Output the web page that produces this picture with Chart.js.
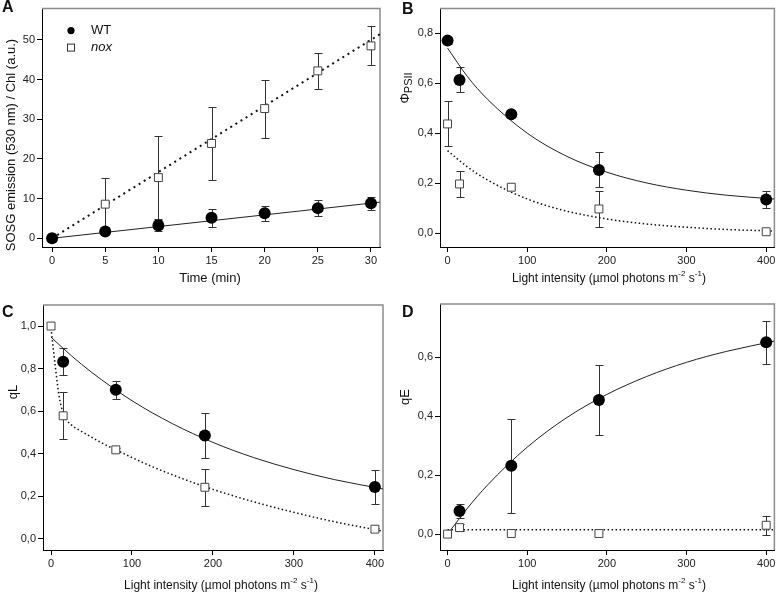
<!DOCTYPE html>
<html>
<head>
<meta charset="utf-8">
<script src="https://cdn.jsdelivr.net/npm/chart.js@4.4.1/dist/chart.umd.min.js"></script>
<style>
  body { margin: 0; background: #fff; }
  #fig { position: relative; width: 781px; height: 593px; font-family: 'Liberation Sans', Arial, sans-serif; color: #111; }
  canvas { position: absolute; }
  .lbl { position: absolute; font-weight: bold; font-size: 16px; line-height: 1; }
  .ttl { position: absolute; font-size: 13px; white-space: nowrap; line-height: 1; transform: translate(-50%, -50%); }
  .lt { font-size: 12px; }
  .rot { transform: translate(-50%, -50%) rotate(-90deg); }
  sup { font-size: 8px; vertical-align: 6px; line-height: 0; }
  sub { font-size: 11px; vertical-align: -3px; line-height: 0; }
</style>
</head>
<body>
<div id="fig">
  <canvas id="cA" width="390" height="295" style="left:0;top:0"></canvas>
  <canvas id="cB" width="391" height="295" style="left:390px;top:0"></canvas>
  <canvas id="cC" width="390" height="298" style="left:0;top:295px"></canvas>
  <canvas id="cD" width="391" height="298" style="left:390px;top:295px"></canvas>

  <div class="lbl" style="left:2px;top:-1px">A</div>
  <div class="lbl" style="left:402px;top:1px">B</div>
  <div class="lbl" style="left:2px;top:304px">C</div>
  <div class="lbl" style="left:402px;top:304px">D</div>

  <div class="ttl rot" style="left:10px;top:145px">SOSG emission (530 nm) / Chl (a.u.)</div>
  <div class="ttl" style="left:210px;top:277px">Time (min)</div>
  <div class="ttl rot" style="left:404px;top:88px">&Phi;<sub>PSII</sub></div>
  <div class="ttl lt" style="left:609px;top:278px">Light intensity (&micro;mol photons m<sup>-2</sup> s<sup>-1</sup>)</div>
  <div class="ttl rot" style="left:12px;top:392px">qL</div>
  <div class="ttl lt" style="left:221px;top:585px">Light intensity (&micro;mol photons m<sup>-2</sup> s<sup>-1</sup>)</div>
  <div class="ttl rot" style="left:404px;top:397px">qE</div>
  <div class="ttl lt" style="left:609px;top:585px">Light intensity (&micro;mol photons m<sup>-2</sup> s<sup>-1</sup>)</div>
</div>
<script>
// ---- A: SOSG fluorescence over time
const timeMin = [0, 5, 10, 15, 20, 25, 30];
const sosgWT = [0, 1.7, 3.2, 5.2, 6.3, 7.6, 8.8];
const sosgWTErr = [0, 0.4, 1.4, 2.3, 1.9, 2.0, 1.6];
const sosgNox = [0, 8.6, 15.3, 23.9, 32.7, 42.2, 48.5];
const sosgNoxErr = [0, 6.6, 10.4, 9.3, 7.3, 4.5, 4.9];
const fitTime = [0, 31];
const fitSosgWT = [0, 9.15];
const fitSosgNox = [0, 51.7];
const timeTicks = [0, 5, 10, 15, 20, 25, 30];
const sosgTicks = [0, 10, 20, 30, 40, 50];

// ---- B, C, D: light response
const light = [0, 15, 80, 190, 400];
const lightTicks = [0, 100, 200, 300, 400];

const phiWT = [0.77, 0.613, 0.476, 0.253, 0.135];
const phiWTErr = [0.015, 0.05, 0.005, 0.07, 0.033];
const phiNox = [0.437, 0.197, 0.184, 0.097, 0.006];
const phiNoxErr = [0.09, 0.053, 0.005, 0.073, 0.004];
const fitLight = [0, 25, 50, 100, 150, 200, 250, 300, 350, 410];
const fitPhiWT = [0.74, 0.626, 0.536, 0.40, 0.307, 0.244, 0.201, 0.172, 0.152, 0.137];
const fitPhiNox = [0.33, 0.265, 0.213, 0.137, 0.088, 0.057, 0.037, 0.024, 0.015, 0.009];
const phiTicks = [0, 0.2, 0.4, 0.6, 0.8];

const qLWT = [null, 0.832, 0.70, 0.485, 0.243];
const qLWTErr = [0, 0.063, 0.042, 0.104, 0.079];
const qLNox = [1.0, 0.578, 0.418, 0.242, 0.045];
const qLNoxErr = [0, 0.11, 0.01, 0.087, 0.005];
const fitQLWT = [0.948, 0.861, 0.783, 0.649, 0.541, 0.453, 0.382, 0.325, 0.278, 0.234];
const fitLightNoxQL = [0, 5, 10, 15, 20, 25, 40, 60, 80, 120, 160, 200, 250, 300, 350, 410];
const fitQLNox = [0.99, 0.82, 0.67, 0.59, 0.555, 0.535, 0.5, 0.456, 0.418, 0.347, 0.286, 0.232, 0.174, 0.124, 0.08, 0.035];
const qLTicks = [0, 0.2, 0.4, 0.6, 0.8, 1.0];

const qEWT = [null, 0.078, 0.232, 0.455, 0.651];
const qEWTErr = [0, 0.025, 0.16, 0.119, 0.072];
const qENox = [0, 0.022, 0.002, 0.002, 0.03];
const qENoxErr = [0, 0.013, 0, 0, 0.033];
const fitQEWT = [0, 0.088, 0.166, 0.295, 0.396, 0.474, 0.535, 0.583, 0.62, 0.655];
const fitLightNoxQE = [0, 410];
const fitQENox = [0.015, 0.015];
const qETicks = [0, 0.2, 0.4, 0.6];

Chart.defaults.font.family = "'Liberation Sans', Arial, sans-serif";
Chart.defaults.font.size = 11;
Chart.defaults.color = '#222';

const pts = (xs, ys) => xs.map((x, i) => ({ x: x, y: ys[i] }));
const comma = v => v.toFixed(1).replace('.', ',');

const wtStyle = { pointStyle: 'circle', pointRadius: 6, backgroundColor: '#000', borderColor: '#000', borderWidth: 0, showLine: false };
const noxStyle = { pointStyle: 'rect', pointRadius: 5.6, backgroundColor: '#fff', borderColor: '#444', borderWidth: 1, showLine: false };
const solidFit = { showLine: true, pointRadius: 0, borderColor: '#222', borderWidth: 1, cubicInterpolationMode: 'monotone', fill: false };
const dotFit = { showLine: true, pointRadius: 0, borderColor: '#111', borderWidth: 1.5, borderDash: [1.5, 2.5], cubicInterpolationMode: 'monotone', fill: false };

// top / right frame lines in grey
const frame = {
  id: 'frame',
  beforeDatasetsDraw(chart) {
    const { ctx, chartArea: a } = chart;
    ctx.save();
    ctx.strokeStyle = '#8c8c8c';
    ctx.lineWidth = 1.5;
    ctx.beginPath();
    ctx.moveTo(a.left, a.top);
    ctx.lineTo(a.right, a.top);
    ctx.lineTo(a.right, a.bottom);
    ctx.stroke();
    ctx.restore();
  }
};

// vertical error bars with caps, read from dataset.errors
const errorBars = {
  id: 'errorBars',
  beforeDatasetsDraw(chart) {
    const { ctx, scales: { x, y } } = chart;
    chart.data.datasets.forEach(ds => {
      if (!ds.errors) return;
      ctx.save();
      ctx.strokeStyle = '#333';
      ctx.lineWidth = 1;
      ds.data.forEach((p, i) => {
        const e = ds.errors[i];
        if (p.y == null || !e) return;
        const px = Math.round(x.getPixelForValue(p.x)) + 0.5;
        const top = Math.round(y.getPixelForValue(p.y + e)) + 0.5;
        const bot = Math.round(y.getPixelForValue(p.y - e)) + 0.5;
        ctx.beginPath();
        ctx.moveTo(px, top); ctx.lineTo(px, bot);
        ctx.moveTo(px - 4, top); ctx.lineTo(px + 4, top);
        ctx.moveTo(px - 4, bot); ctx.lineTo(px + 4, bot);
        ctx.stroke();
      });
      ctx.restore();
    });
  }
};

// legend inside panel A
const legendA = {
  id: 'legendA',
  afterDraw(chart) {
    const { ctx, chartArea: a } = chart;
    const cx = a.left + 29;
    ctx.save();
    ctx.fillStyle = '#000';
    ctx.beginPath();
    ctx.arc(cx, a.top + 22, 3.6, 0, Math.PI * 2);
    ctx.fill();
    ctx.strokeStyle = '#333';
    ctx.lineWidth = 1;
    ctx.strokeRect(cx - 3.5, a.top + 39 - 3.5, 7, 7);
    ctx.fillStyle = '#111';
    ctx.textBaseline = 'middle';
    ctx.font = "13px 'Liberation Sans', Arial, sans-serif";
    ctx.fillText('WT', a.left + 49, a.top + 22);
    ctx.font = "italic 13px 'Liberation Sans', Arial, sans-serif";
    ctx.fillText('nox', a.left + 49, a.top + 39);
    ctx.restore();
  }
};

function axis(dir, min, max, ticks, fmt, size) {
  return {
    type: 'linear',
    position: dir === 'x' ? 'bottom' : 'left',
    min: min,
    max: max,
    border: { display: true, color: '#000', width: 1 },
    grid: { display: true, drawOnChartArea: false, drawTicks: true, tickLength: 5, color: '#000' },
    ticks: { callback: fmt, padding: 2, color: '#222', maxRotation: 0, autoSkip: false },
    afterBuildTicks: s => { s.ticks = ticks.map(v => ({ value: v })); },
    afterFit: s => { if (dir === 'x') s.height = size; else s.width = size; }
  };
}

function panel(id, o) {
  return new Chart(document.getElementById(id), {
    type: 'scatter',
    data: { datasets: o.datasets },
    options: {
      responsive: false,
      animation: false,
      events: [],
      layout: { padding: o.pad },
      plugins: { legend: { display: false }, tooltip: { enabled: false } },
      scales: {
        x: axis('x', o.x[0], o.x[1], o.xTicks, v => String(v), o.xH),
        y: axis('y', o.y[0], o.y[1], o.yTicks, o.yFmt, o.yW)
      }
    },
    plugins: [frame, errorBars].concat(o.extra || [])
  });
}

// A
panel('cA', {
  x: [-0.95, 30.85], y: [-2.2, 57.9],
  xTicks: timeTicks, yTicks: sosgTicks, yFmt: v => String(v),
  xH: 48, yW: 42, pad: { top: 3, right: 10, left: 0, bottom: 0 },
  extra: [legendA],
  datasets: [
    Object.assign({ label: 'WT', data: pts(timeMin, sosgWT), errors: sosgWTErr }, wtStyle),
    Object.assign({ label: 'nox', data: pts(timeMin, sosgNox), errors: sosgNoxErr }, noxStyle),
    Object.assign({ label: 'WT fit', data: pts(fitTime, fitSosgWT) }, solidFit),
    Object.assign({ label: 'nox fit', data: pts(fitTime, fitSosgNox) }, dotFit, { borderWidth: 2, borderDash: [2, 4] })
  ]
});

// B
panel('cB', {
  x: [-9.5, 410.3], y: [-0.055, 0.898],
  xTicks: lightTicks, yTicks: phiTicks, yFmt: comma,
  xH: 48, yW: 50, pad: { top: 3, right: 2, left: 0, bottom: 0 },
  datasets: [
    Object.assign({ label: 'WT', data: pts(light, phiWT), errors: phiWTErr }, wtStyle),
    Object.assign({ label: 'nox', data: pts(light, phiNox), errors: phiNoxErr }, noxStyle),
    Object.assign({ label: 'WT fit', data: pts(fitLight, fitPhiWT) }, solidFit),
    Object.assign({ label: 'nox fit', data: pts(fitLight, fitPhiNox) }, dotFit)
  ]
});

// C
panel('cC', {
  x: [-9.9, 410], y: [-0.053, 1.099],
  xTicks: lightTicks, yTicks: qLTicks, yFmt: comma,
  xH: 43, yW: 43, pad: { top: 10, right: 7, left: 0, bottom: 0 },
  datasets: [
    Object.assign({ label: 'WT', data: pts(light, qLWT), errors: qLWTErr }, wtStyle),
    Object.assign({ label: 'nox', data: pts(light, qLNox), errors: qLNoxErr }, noxStyle),
    Object.assign({ label: 'WT fit', data: pts(fitLight, fitQLWT) }, solidFit),
    Object.assign({ label: 'nox fit', data: pts(fitLightNoxQL, fitQLNox) }, dotFit)
  ]
});

// D
panel('cD', {
  x: [-9.5, 410.3], y: [-0.054, 0.781],
  xTicks: lightTicks, yTicks: qETicks, yFmt: comma,
  xH: 43, yW: 50, pad: { top: 9, right: 2, left: 0, bottom: 0 },
  datasets: [
    Object.assign({ label: 'WT', data: pts(light, qEWT), errors: qEWTErr }, wtStyle),
    Object.assign({ label: 'nox', data: pts(light, qENox), errors: qENoxErr }, noxStyle),
    Object.assign({ label: 'WT fit', data: pts(fitLight, fitQEWT) }, solidFit),
    Object.assign({ label: 'nox fit', data: pts(fitLightNoxQE, fitQENox) }, dotFit)
  ]
});
</script>
</body>
</html>
